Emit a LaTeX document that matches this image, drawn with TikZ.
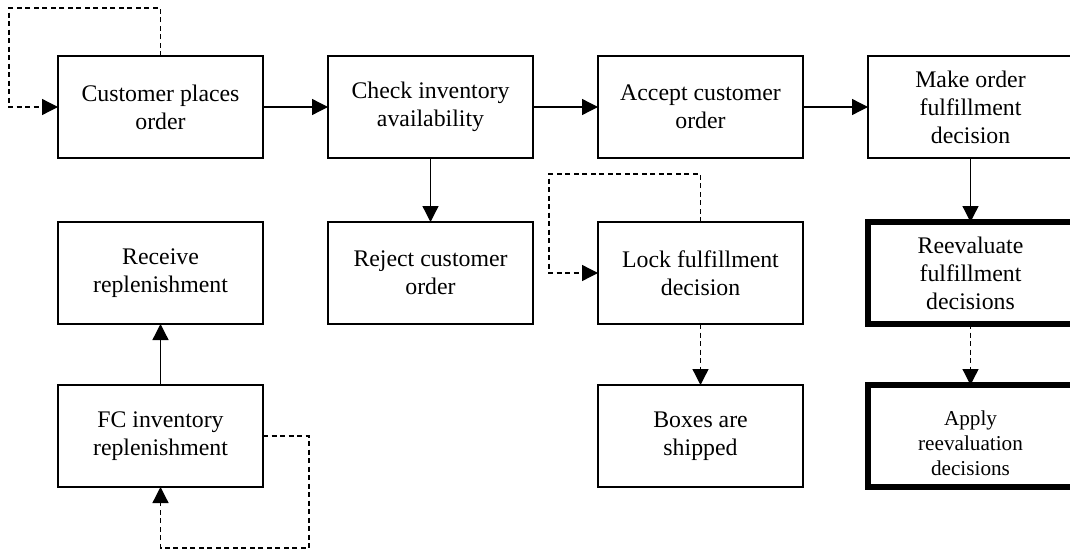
\documentclass[tikz,border=0pt]{standalone}
\usepackage{fontspec}
\setmainfont{Liberation Serif}
\usepackage{tikz}
\usetikzlibrary{positioning, arrows.meta}

\tikzset{
  box/.style={draw, rectangle, line width=2.4pt, outer sep=0pt,
    minimum width=205pt, minimum height=102pt, align=center,
    font=\fontsize{23.8pt}{28pt}\selectfont},
  thickbox/.style={box, line width=5.5pt},
  flow/.style={line width=1.3pt, -{Triangle[length=16pt, width=16pt]}},
  dashflow/.style={flow, dash pattern=on 5pt off 3.5pt},
}

\begin{document}
\begin{tikzpicture}[x=1pt, y=1pt]
  \useasboundingbox (0,0) rectangle (1070,-554);

  % top row: order handling
  \node [box] (place) at (160.5,-107) {Customer places\\order};%
  \node [box, right=65pt of place] (check) {Check inventory\\availability};%
  \node [box, right=65pt of check] (accept) {Accept customer\\order};%
  \node [box, right=65pt of accept] (decide) {Make order\\fulfillment\\decision};%

  % second row
  \node [box, below=64pt of place] (receive) {Receive\\replenishment};%
  \node [box, below=64pt of check] (reject) {Reject customer\\order};%
  \node [box, below=64pt of accept] (lock) {Lock fulfillment\\decision};%
  \node [thickbox, below=64pt of decide] (reeval) {Reevaluate\\fulfillment\\decisions};%

  % third row
  \node [box, below=61pt of receive] (replen) {FC inventory\\replenishment};%
  \node [box, below=61pt of lock] (ship) {Boxes are\\shipped};%
  % strut pushes the smaller text a little lower
  \node [thickbox, below=61pt of reeval,
    font=\fontsize{21.2pt}{25pt}\selectfont] (apply)
    {\rule{0pt}{30pt}Apply\\reevaluation\\decisions};%

  \draw [flow] (place) -- (check);%
  \draw [flow] (check) -- (accept);%
  \draw [flow] (accept) -- (decide);%
  \draw [flow] (check) -- (reject);%
  \draw [flow] (decide) -- (reeval);%
  \draw [flow] (replen) -- (receive);%

  \draw [dashflow] (lock) -- (ship);%
  \draw [dashflow] (reeval) -- (apply);%

  % self loops
  \draw [dashflow] (place.north) -- ++(0,48) -| ([xshift=-49pt]place.west)
    -- (place.west);%
  \draw [dashflow] (lock.north) -- ++(0,48) -| ([xshift=-49pt]lock.west)
    -- (lock.west);%
  \draw [dashflow] (replen.east) -- ++(46,0) |- ([yshift=-61pt]replen.south)
    -- (replen.south);%
\end{tikzpicture}
\end{document}
